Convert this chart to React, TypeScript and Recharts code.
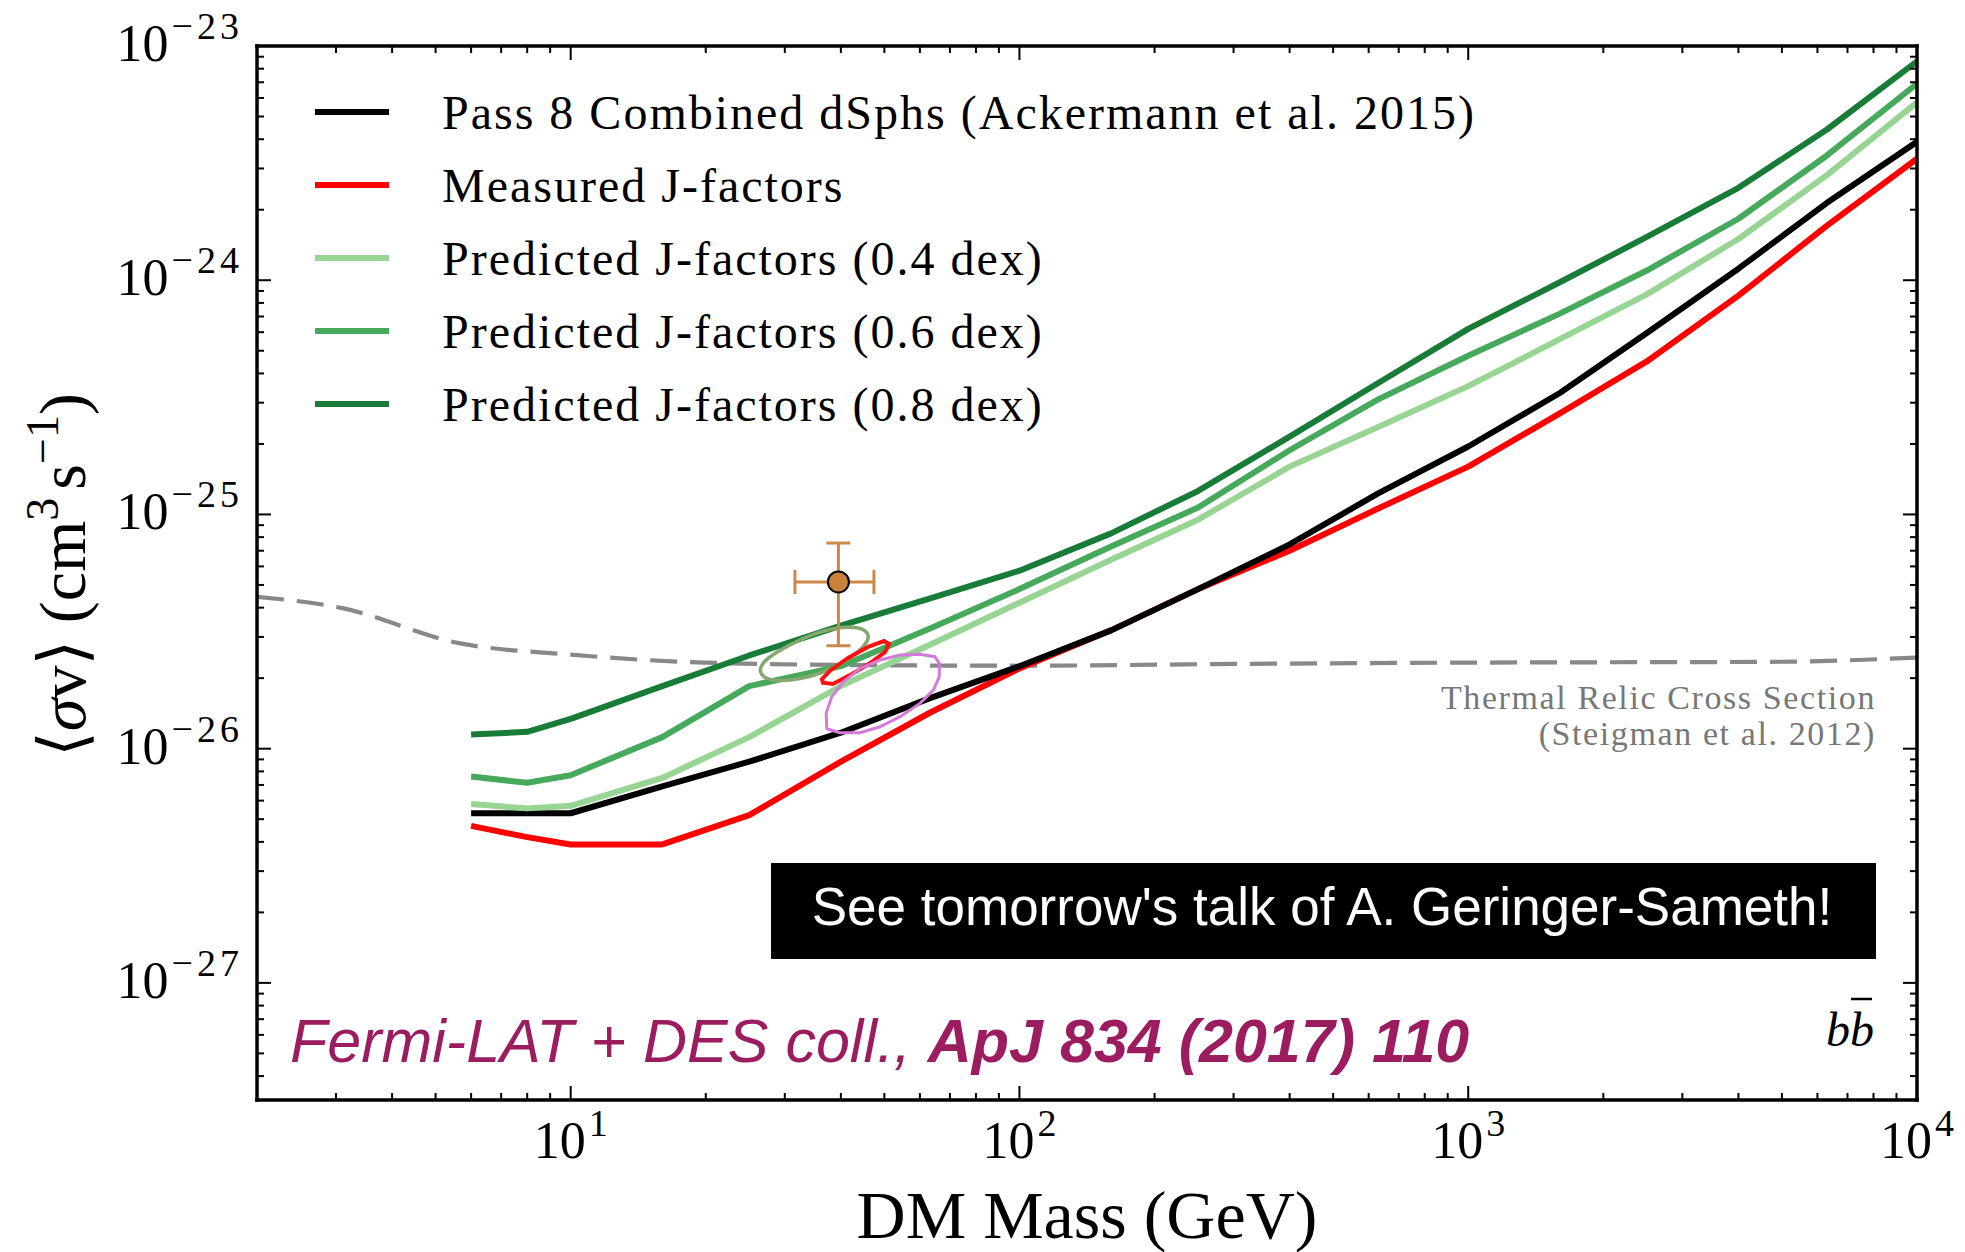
import React from 'react';
import { ComposedChart, XAxis, YAxis, Line, Scatter, ErrorBar } from 'recharts';

const W = 1965;
const H = 1252;
const PLOT = { left: 257, top: 46, right: 1917, bottom: 1100 };

const SERIF = "'Liberation Serif', 'DejaVu Serif', serif";
const SANS = "'Liberation Sans', Arial, sans-serif";

const MASS_DOMAIN: [number, number] = [2, 1e4];
const SIGMAV_DOMAIN: [number, number] = [Math.pow(10, -27.5), 1e-23];

// DM masses (GeV) at which the upper limits are tabulated
const masses = [6, 8, 10, 16, 25, 40, 63, 100, 160, 250, 400, 630, 1000, 1600, 2500, 4000, 6300, 10000];

// 95% upper limits on <sigma v> (cm^3 s^-1), b-bbar channel
const pass8Combined = [5.3e-27, 5.3e-27, 5.3e-27, 6.9e-27, 8.8e-27, 1.17e-26, 1.64e-26, 2.25e-26, 3.2e-26, 4.8e-26, 7.45e-26, 1.23e-25, 1.95e-25, 3.3e-25, 5.95e-25, 1.12e-24, 2.14e-24, 3.9e-24];
const measuredJ = [4.68e-27, 4.19e-27, 3.9e-27, 3.9e-27, 5.2e-27, 8.8e-27, 1.42e-26, 2.2e-26, 3.2e-26, 4.8e-26, 7.0e-26, 1.06e-25, 1.6e-25, 2.7e-25, 4.5e-25, 8.6e-25, 1.71e-24, 3.3e-24];
const predicted04 = [5.8e-27, 5.56e-27, 5.7e-27, 7.5e-27, 1.12e-26, 1.85e-26, 2.77e-26, 4.2e-26, 6.4e-26, 9.5e-26, 1.6e-25, 2.36e-25, 3.53e-25, 5.6e-25, 8.7e-25, 1.5e-24, 2.81e-24, 5.75e-24];
const predicted06 = [7.6e-27, 7.15e-27, 7.7e-27, 1.12e-26, 1.85e-26, 2.25e-26, 3.25e-26, 4.8e-26, 7.3e-26, 1.07e-25, 1.88e-25, 3.1e-25, 4.76e-25, 7.2e-25, 1.1e-24, 1.83e-24, 3.41e-24, 6.9e-24];
const predicted08 = [1.15e-26, 1.18e-26, 1.34e-26, 1.85e-26, 2.5e-26, 3.35e-26, 4.37e-26, 5.75e-26, 8.3e-26, 1.26e-25, 2.15e-25, 3.64e-25, 6.2e-25, 9.8e-25, 1.53e-24, 2.48e-24, 4.4e-24, 8.6e-24];

// Thermal relic cross section (Steigman et al. 2012)
const relicMass = [2, 3.1, 5.6, 10, 20, 50, 100, 300, 1000, 5000, 10000];
const relicSigmaV = [4.45e-26, 3.98e-26, 2.83e-26, 2.52e-26, 2.33e-26, 2.27e-26, 2.26e-26, 2.3e-26, 2.33e-26, 2.35e-26, 2.45e-26];

// Galactic-centre excess best-fit regions (closed contours)
const regionGreenMass = [26.3, 27.2, 29.3, 32.4, 36.3, 40.4, 44.1, 46.2, 46.0, 43.7, 39.8, 35.6, 31.6, 28.2, 26.6];
const regionGreenSigmaV = [2.12e-26, 1.98e-26, 1.94e-26, 1.98e-26, 2.1e-26, 2.32e-26, 2.61e-26, 2.91e-26, 3.15e-26, 3.31e-26, 3.31e-26, 3.15e-26, 2.85e-26, 2.53e-26, 2.3e-26];
const regionRedMass = [36.5, 38.4, 41.9, 46.5, 50.2, 51.2, 49.9, 46.0, 41.5, 37.8, 36.3];
const regionRedSigmaV = [1.91e-26, 1.89e-26, 2.06e-26, 2.32e-26, 2.59e-26, 2.8e-26, 2.88e-26, 2.72e-26, 2.44e-26, 2.15e-26, 1.98e-26];
const regionVioletMass = [37.2, 37.1, 38.2, 40.5, 44.1, 48.9, 54.2, 60.0, 64.8, 66.3, 66.3, 64.3, 60.0, 54.2, 48.9, 44.1, 39.8, 37.5];
const regionVioletSigmaV = [1.22e-26, 1.42e-26, 1.67e-26, 1.93e-26, 2.2e-26, 2.39e-26, 2.51e-26, 2.53e-26, 2.47e-26, 2.31e-26, 2.03e-26, 1.78e-26, 1.56e-26, 1.37e-26, 1.24e-26, 1.17e-26, 1.17e-26, 1.21e-26];

// Single best-fit point with symmetric errors
const gcePoint = { mass: 39.5, sigmaV: 5.15e-26, massErr: 7.9, sigmaVErr: 2.4e-26 };

const toPoints = (xs: number[], ys: number[]) => xs.map((m, i) => ({ m, v: ys[i] }));

const limitSeries = [
  { key: 'measured', label: 'Measured J-factors', color: '#ff0000', values: measuredJ },
  { key: 'pass8', label: 'Pass 8 Combined dSphs (Ackermann et al. 2015)', color: '#000000', values: pass8Combined },
  { key: 'p04', label: 'Predicted J-factors (0.4 dex)', color: '#98d594', values: predicted04 },
  { key: 'p06', label: 'Predicted J-factors (0.6 dex)', color: '#46a95b', values: predicted06 },
  { key: 'p08', label: 'Predicted J-factors (0.8 dex)', color: '#197b38', values: predicted08 },
];
const legendOrder = ['pass8', 'measured', 'p04', 'p06', 'p08'];

const regions = [
  { key: 'green', mass: regionGreenMass, sigmaV: regionGreenSigmaV, color: '#84a870', width: 3.6, curve: 'basisClosed' },
  { key: 'red', mass: regionRedMass, sigmaV: regionRedSigmaV, color: '#ff1010', width: 4, curve: 'linearClosed' },
  { key: 'violet', mass: regionVioletMass, sigmaV: regionVioletSigmaV, color: '#d47bda', width: 3, curve: 'linearClosed' },
];

// log-axis tick positions: every 1..9 x 10^n inside the range
function logTicks(lo: number, hi: number) {
  const out: number[] = [];
  for (let e = Math.floor(Math.log10(lo)); e <= Math.ceil(Math.log10(hi)); e++) {
    for (let k = 1; k <= 9; k++) {
      const v = k * Math.pow(10, e);
      if (v >= lo * (1 + 1e-9) && v <= hi * (1 + 1e-9)) out.push(v);
    }
  }
  return out;
}
const massTicks = logTicks(MASS_DOMAIN[0], MASS_DOMAIN[1]);
const sigmaTicks = logTicks(SIGMAV_DOMAIN[0], SIGMAV_DOMAIN[1]);

const MAJOR_LEN = 14;
const MINOR_LEN = 7;
const isDecade = (v: number) => {
  const l = Math.log10(v);
  return Math.abs(l - Math.round(l)) < 1e-6;
};
const expText = (v: number) => {
  const e = Math.round(Math.log10(v));
  return e < 0 ? `\u2212${-e}` : `${e}`;
};

function PowerLabel({ x, y, v, anchor }: { x: number; y: number; v: number; anchor: 'middle' | 'end' }) {
  return (
    <text x={x} y={y} textAnchor={anchor} fontFamily={SERIF} fontSize={52} fill="#000">
      10
      <tspan fontSize={38} dx={3} dy={-22} letterSpacing={4}>
        {expText(v)}
      </tspan>
    </text>
  );
}

const makeTick = (side: 'bottom' | 'top' | 'left' | 'right') => (props: any) => {
  const v = props.payload.value as number;
  const major = isDecade(v);
  const len = major ? MAJOR_LEN : MINOR_LEN;
  const tickStyle = { stroke: '#000', strokeWidth: 2 };
  if (side === 'bottom' || side === 'top') {
    const x = props.x;
    const y0 = side === 'bottom' ? PLOT.bottom : PLOT.top;
    const y1 = side === 'bottom' ? y0 - len : y0 + len;
    return (
      <g>
        <line x1={x} x2={x} y1={y0} y2={y1} {...tickStyle} />
        {side === 'bottom' && major && <PowerLabel x={x + 2} y={PLOT.bottom + 58} v={v} anchor="middle" />}
      </g>
    );
  }
  const y = props.y;
  const x0 = side === 'left' ? PLOT.left : PLOT.right;
  const x1 = side === 'left' ? x0 + len : x0 - len;
  return (
    <g>
      <line x1={x0} x2={x1} y1={y} y2={y} {...tickStyle} />
      {side === 'left' && major && <PowerLabel x={PLOT.left - 14} y={y + 15} v={v} anchor="end" />}
    </g>
  );
};

const AXIS_LINE = { stroke: '#000', strokeWidth: 3.5, strokeLinecap: 'square' as const };

const PointMarker = (p: any) => (
  <circle cx={p.cx} cy={p.cy} r={10.5} fill="#c8823a" stroke="#000" strokeWidth={2} />
);

export default function App() {
  const pointData = [
    {
      m: gcePoint.mass,
      v: gcePoint.sigmaV,
      ex: [gcePoint.massErr, gcePoint.massErr],
      ey: [gcePoint.sigmaVErr, gcePoint.sigmaVErr],
    },
  ];
  return (
    <div style={{ position: 'relative', width: W, height: H, background: '#fff' }}>
      <style>{'html,body{margin:0;padding:0;overflow:hidden;background:#fff}'}</style>
      <ComposedChart width={W} height={H} margin={{ top: 0, right: 0, bottom: 0, left: 0 }}>
        <XAxis
          xAxisId="bottom"
          orientation="bottom"
          type="number"
          dataKey="m"
          scale="log"
          domain={MASS_DOMAIN}
          allowDataOverflow
          ticks={massTicks}
          interval={0}
          height={H - PLOT.bottom}
          tickSize={0}
          tickMargin={0}
          tickLine={false}
          axisLine={AXIS_LINE}
          tick={makeTick('bottom')}
        />
        <XAxis
          xAxisId="top"
          orientation="top"
          type="number"
          dataKey="m"
          scale="log"
          domain={MASS_DOMAIN}
          allowDataOverflow
          ticks={massTicks}
          interval={0}
          height={PLOT.top}
          tickSize={0}
          tickMargin={0}
          tickLine={false}
          axisLine={AXIS_LINE}
          tick={makeTick('top')}
        />
        <YAxis
          yAxisId="left"
          orientation="left"
          type="number"
          dataKey="v"
          scale="log"
          domain={SIGMAV_DOMAIN}
          allowDataOverflow
          ticks={sigmaTicks}
          interval={0}
          width={PLOT.left}
          tickSize={0}
          tickMargin={0}
          tickLine={false}
          axisLine={AXIS_LINE}
          tick={makeTick('left')}
        />
        <YAxis
          yAxisId="right"
          orientation="right"
          type="number"
          dataKey="v"
          scale="log"
          domain={SIGMAV_DOMAIN}
          allowDataOverflow
          ticks={sigmaTicks}
          interval={0}
          width={W - PLOT.right}
          tickSize={0}
          tickMargin={0}
          tickLine={false}
          axisLine={AXIS_LINE}
          tick={makeTick('right')}
        />

        <Line
          xAxisId="bottom"
          yAxisId="left"
          data={toPoints(relicMass, relicSigmaV)}
          dataKey="v"
          type="monotone"
          stroke="#888888"
          strokeWidth={4.2}
          strokeDasharray="27 13"
          dot={false}
          activeDot={false}
          isAnimationActive={false}
          legendType="none"
        />

        {limitSeries.map((s) => (
          <Line
            key={s.key}
            xAxisId="bottom"
            yAxisId="left"
            data={toPoints(masses, s.values)}
            dataKey="v"
            name={s.label}
            type="linear"
            stroke={s.color}
            strokeWidth={6}
            strokeLinejoin="round"
            dot={false}
            activeDot={false}
            isAnimationActive={false}
          />
        ))}

        {regions.map((r) => (
          <Line
            key={r.key}
            xAxisId="bottom"
            yAxisId="left"
            data={toPoints(r.mass, r.sigmaV)}
            dataKey="v"
            type={r.curve as any}
            stroke={r.color}
            strokeWidth={r.width}
            fill="none"
            dot={false}
            activeDot={false}
            isAnimationActive={false}
            legendType="none"
          />
        ))}

        <Scatter
          xAxisId="bottom"
          yAxisId="left"
          data={pointData}
          dataKey="v"
          shape={PointMarker}
          isAnimationActive={false}
          legendType="none"
        >
          <ErrorBar dataKey="ey" direction="y" width={12} stroke="#cc8848" strokeWidth={3} />
          <ErrorBar dataKey="ex" direction="x" width={12} stroke="#cc8848" strokeWidth={3} />
        </Scatter>
      </ComposedChart>

      <svg
        width={W}
        height={H}
        style={{ position: 'absolute', left: 0, top: 0, pointerEvents: 'none' }}
      >
        {/* legend */}
        {legendOrder.map((k, i) => {
          const s = limitSeries.find((d) => d.key === k)!;
          const cy = 112 + 73 * i;
          return (
            <g key={k}>
              <line x1={315} x2={389} y1={cy} y2={cy} stroke={s.color} strokeWidth={6} />
              <text x={442} y={cy + 16.5} fontFamily={SERIF} fontSize={48} letterSpacing={2} fill="#000">
                {s.label}
              </text>
            </g>
          );
        })}

        {/* thermal relic annotation */}
        <text x={1876} y={709} textAnchor="end" fontFamily={SERIF} fontSize={34} letterSpacing={1.6} fill="#777">
          Thermal Relic Cross Section
        </text>
        <text x={1876} y={745} textAnchor="end" fontFamily={SERIF} fontSize={34} letterSpacing={1.6} fill="#777">
          (Steigman et al. 2012)
        </text>

        {/* annihilation channel */}
        <text x={1826} y={1046} fontFamily={SERIF} fontStyle="italic" fontSize={48} fill="#000">
          bb
        </text>
        <line x1={1851} x2={1872} y1={999} y2={999} stroke="#000" strokeWidth={2.5} />

        {/* reference */}
        <text x={290} y={1062} fontFamily={SANS} fontStyle="italic" fontSize={61} fill="#9b1c5f">
          Fermi-LAT + DES coll.,{' '}
          <tspan fontWeight="bold">ApJ 834 (2017) 110</tspan>
        </text>

        {/* talk note */}
        <rect x={771} y={863} width={1105} height={96} fill="#000" />
        <text x={1322} y={925} textAnchor="middle" fontFamily={SANS} fontSize={53} fill="#fff">
          See tomorrow's talk of A. Geringer-Sameth!
        </text>

        {/* axis titles */}
        <text x={1087} y={1238} textAnchor="middle" fontFamily={SERIF} fontSize={68} fill="#000">
          DM Mass (GeV)
        </text>
        <text
          transform="translate(85, 575) rotate(-90)"
          textAnchor="middle"
          fontFamily={SERIF}
          fontSize={66}
          fill="#000"
        >
          {'\u27E8'}
          <tspan fontStyle="italic">σ</tspan>v{'\u27E9'} (cm
          <tspan fontSize={46} dy={-27}>3</tspan>
          <tspan dy={27} dx={8}>s</tspan>
          <tspan fontSize={46} dy={-27}>{'\u22121'}</tspan>
          <tspan dy={27}>)</tspan>
        </text>
      </svg>
    </div>
  );
}
